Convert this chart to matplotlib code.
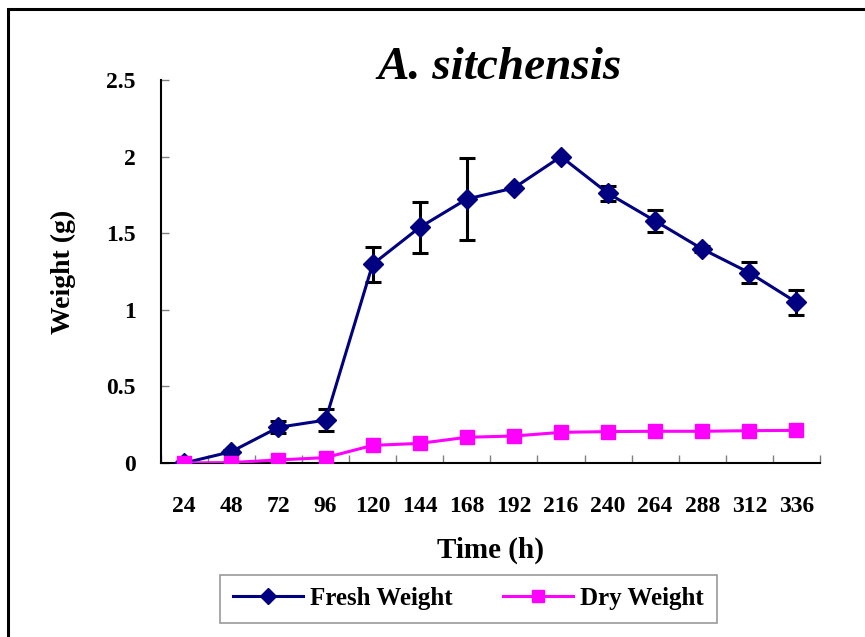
import matplotlib.pyplot as plt
from matplotlib.patches import Rectangle
import numpy as np

plt.rcParams['font.family'] = ['Liberation Serif', 'DejaVu Serif']
plt.rcParams['font.weight'] = 'bold'

horas = ["24", "48", "72", "96", "120", "144", "168", "192", "216", "240", "264", "288", "312", "336"]
pesoFresco = [0.0, 0.074, 0.233, 0.28, 1.297, 1.538, 1.723, 1.795, 2.0, 1.76, 1.58, 1.397, 1.242, 1.049]
erroFresco = [0.0, 0.01, 0.038, 0.07, 0.115, 0.165, 0.268, 0.0, 0.0, 0.048, 0.07, 0.02, 0.07, 0.08]
pesoSeco = [0.0, 0.003, 0.02, 0.035, 0.115, 0.128, 0.168, 0.176, 0.2, 0.205, 0.207, 0.207, 0.211, 0.213]

W, H = 865, 637
fig = plt.figure(figsize=(W / 100, H / 100), dpi=100)
ax = fig.add_axes([160.7 / W, 1 - 463 / H, (820 - 160.7) / W, (463 - 80) / H])

x = np.arange(len(horas)) + 0.5

# borda externa do grafico
fig.patches.append(Rectangle((8 / W, -0.05), 1.1, 1 - 9 / H + 0.05, transform=fig.transFigure,
                             fill=False, edgecolor='black', linewidth=2.2, clip_on=False))

ax.errorbar(x, pesoFresco, yerr=erroFresco, fmt='none', ecolor='black', elinewidth=2.2,
            capsize=5.5, capthick=2.2, zorder=3)
ax.plot(x, pesoFresco, '-D', color='#000080', linewidth=2.2, markersize=10.5, label='Fresh Weight', zorder=4)
ax.plot(x, pesoSeco, '-s', color='#FF00FF', linewidth=2.2, markersize=10.5, label='Dry Weight', zorder=4)

ax.set_xlim(0, len(horas))
ax.set_ylim(0, 2.5)
ax.set_yticks([0, 0.5, 1, 1.5, 2, 2.5])
ax.set_yticklabels(['0', '0.5', '1', '1.5', '2', '2.5'])
ax.set_xticks(np.arange(len(horas) + 1))
ax.set_xticklabels([])
ax.set_xticks(x, minor=True)
ax.set_xticklabels(horas, minor=True)

ax.tick_params(axis='both', which='major', direction='in', length=6, color='gray', width=1)
ax.tick_params(axis='y', labelsize=17, pad=18)
ax.tick_params(axis='x', which='minor', length=0, labelsize=17, pad=24)

for s in ['top', 'right']:
    ax.spines[s].set_visible(False)
for s in ['left', 'bottom']:
    ax.spines[s].set_linewidth(1.5)

ax.set_xlabel("Time (h)", fontsize=21, fontweight='bold', labelpad=14)
ax.set_ylabel("Weight (g)", fontsize=20, fontweight='bold', labelpad=22)
fig.text(500 / W, 1 - 68 / H, "A. sitchensis", fontsize=34, fontweight='bold', style='italic',
         ha='center', va='center')

leg = fig.legend(loc='center', bbox_to_anchor=(468.5 / W, 1 - 598.5 / H), ncol=2,
                 frameon=True, fancybox=False, edgecolor='gray', borderpad=0.5,
                 handlelength=2.8, columnspacing=2.0, handletextpad=0.3,
                 prop={'weight': 'bold', 'size': 18})
leg.get_frame().set_linewidth(1.2)
for h in leg.legend_handles:
    h.set_markersize(8)

fig.savefig("out.png", dpi=100)
